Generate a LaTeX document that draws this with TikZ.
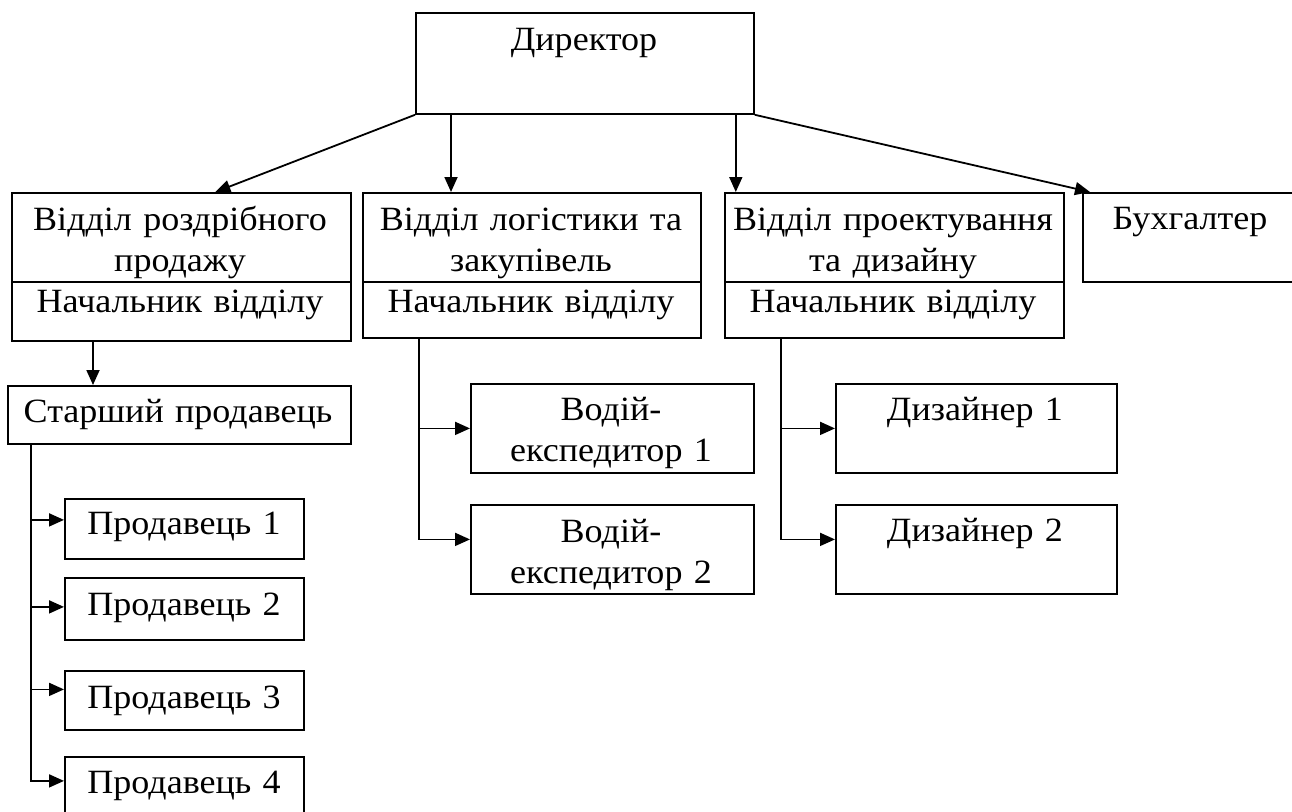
\documentclass[tikz,border=0pt]{standalone}
\usepackage{fontspec}
\setmainfont[FakeStretch=1.06]{Liberation Serif}
\usetikzlibrary{arrows.meta}

\begin{document}
\begin{tikzpicture}[x=1pt,y=-1pt,>={Triangle[length=15pt,width=13pt]},
                    line width=1.8pt]
  \tikzset{box/.style={draw,inner sep=0pt,anchor=north west},
           txt/.style={anchor=base,inner sep=0pt,text width=336pt,align=center,
                       font=\fontsize{34}{41}\selectfont}}
  \useasboundingbox (0,0) rectangle (1292,811);

  % top level
  \node[box,minimum width=338pt,minimum height=101pt] (dir) at (415,12) {};
  \node[txt] (dirtxt) at (584,50) {Директор};

  % departments
  \node[box,minimum width=339pt,minimum height=89pt] (d1top) at (11,192) {};
  \node[box,minimum width=339pt,minimum height=59pt] (d1bot) at (11,281) {};
  \node[txt] (d1txt) at (180,230) {Відділ роздрібного\\продажу};
  \node[txt] (d1head) at (180,312) {Начальник відділу};

  \node[box,minimum width=338pt,minimum height=89pt] (d2top) at (362,192) {};
  \node[box,minimum width=338pt,minimum height=56pt] (d2bot) at (362,281) {};
  \node[txt] (d2txt) at (531,230) {Відділ логістики та\\закупівель};
  \node[txt] (d2head) at (531,312) {Начальник відділу};

  \node[box,minimum width=339pt,minimum height=89pt] (d3top) at (724,192) {};
  \node[box,minimum width=339pt,minimum height=56pt] (d3bot) at (724,281) {};
  \node[txt] (d3txt) at (893,230) {Відділ проектування\\та дизайну};
  \node[txt] (d3head) at (893,312) {Начальник відділу};

  \node[box,minimum width=216pt,minimum height=89pt] (buh) at (1082,192) {};
  \node[txt] (buhtxt) at (1190,229) {Бухгалтер};

  % retail
  \node[box,minimum width=343pt,minimum height=58pt] (star) at (7,385) {};
  \node[txt] (startxt) at (178,422) {Старший продавець};
  \node[box,minimum width=239pt,minimum height=60pt] (s1) at (64,498) {};
  \node[box,minimum width=239pt,minimum height=62pt] (s2) at (64,577) {};
  \node[box,minimum width=239pt,minimum height=59pt] (s3) at (64,670) {};
  \node[box,minimum width=239pt,minimum height=64pt] (s4) at (64,756) {};
  \node[txt] (s1txt) at (184,534) {Продавець 1};
  \node[txt] (s2txt) at (184,615) {Продавець 2};
  \node[txt] (s3txt) at (184,708) {Продавець 3};
  \node[txt] (s4txt) at (184,793) {Продавець 4};

  % logistics
  \node[box,minimum width=283pt,minimum height=89pt] (v1) at (470,383) {};
  \node[box,minimum width=283pt,minimum height=89pt] (v2) at (470,504) {};
  \node[txt] (v1txt) at (611,420) {Водій-\\експедитор 1};
  \node[txt] (v2txt) at (611,542) {Водій-\\експедитор 2};

  % design
  \node[box,minimum width=281pt,minimum height=89pt] (z1) at (835,383) {};
  \node[box,minimum width=281pt,minimum height=89pt] (z2) at (835,504) {};
  \node[txt] (z1txt) at (975,420) {Дизайнер 1};
  \node[txt] (z2txt) at (975,541) {Дизайнер 2};

  % connectors
  \draw[->] (dir.south west) -- ([xshift=34pt]d1top.north);
  \draw[->] ([xshift=36pt]dir.south west) -- ([xshift=36pt]dir.south west |- d2top.north);
  \draw[->] ([xshift=-19pt]dir.south east) -- ([xshift=-19pt]dir.south east |- d3top.north);
  \draw[->] (dir.south east) -- ([xshift=8pt]buh.north west);
  \draw[->] ([xshift=82pt]d1bot.south west) -- ([xshift=82pt]d1bot.south west |- star.north);

  \foreach \s/\d in {s1/9,s2/2,s3/11,s4/8}
    \draw[->] ([xshift=24pt]star.south west) |- ([yshift=\d pt]\s.west);
  \foreach \s/\d in {v1/0,v2/10}
    \draw[->] ([xshift=57pt]d2bot.south west) |- ([yshift=\d pt]\s.west);
  \foreach \s/\d in {z1/0,z2/10}
    \draw[->] ([xshift=57pt]d3bot.south west) |- ([yshift=\d pt]\s.west);
\end{tikzpicture}
\end{document}
